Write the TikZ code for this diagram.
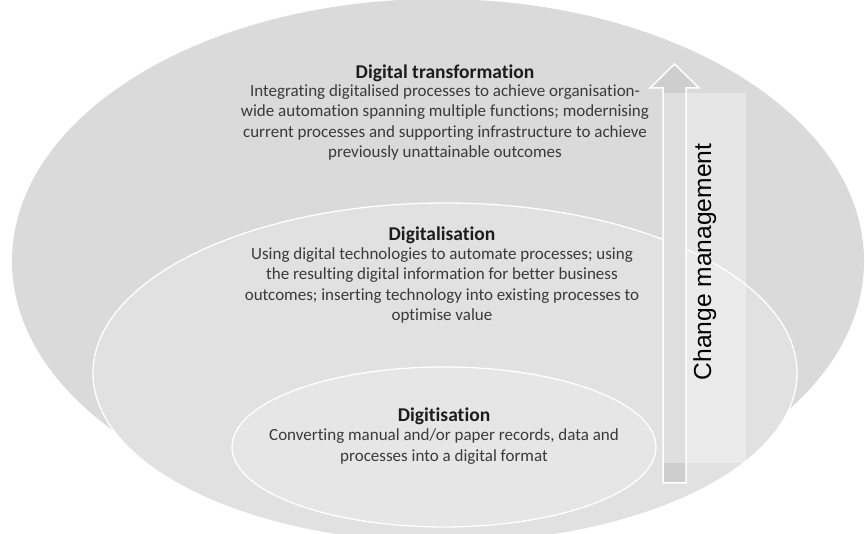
\documentclass[tikz,border=0pt]{standalone}
\usepackage{fontspec}
\setmainfont{Carlito}[Ligatures=NoCommon]
\newfontfamily\arialfont{Liberation Sans}
\usetikzlibrary{positioning}

\definecolor{outerfill}{RGB}{218,218,218}
\definecolor{midfill}{RGB}{225,225,225}
\definecolor{innerfill}{RGB}{230,230,230}
\definecolor{arrowfill}{RGB}{206,206,206}
\definecolor{titlegray}{RGB}{28,28,28}
\definecolor{bodygray}{RGB}{58,58,58}

\begin{document}
\begin{tikzpicture}[x=1pt,y=1pt,
    level/.style={draw=white,line width=1.3pt},
    heading/.style={font=\bfseries\fontsize{19.5}{22}\selectfont,text=titlegray,inner sep=0pt,anchor=base},
    blurb/.style={font=\fontsize{17}{20.5}\selectfont,text=bodygray,align=center,inner sep=0pt},
    arrowbox/.style={fill=arrowfill,draw=white,line width=1.5pt,line join=miter}]

    \useasboundingbox (0,0) rectangle (865,534);
    \clip (0,0) rectangle (865,534);

    % nested stages
    \fill[outerfill] (438,273) ellipse [x radius=426, y radius=262];
    \filldraw[midfill,level] (445,161) ellipse [x radius=352, y radius=170];
    \filldraw[innerfill,level] (444,87) ellipse [x radius=212, y radius=80];

    % change management arrow
    \coordinate (tip) at (674.5,470);
    \draw[arrowbox] (663,51) -- (663,446) -- (650,446) -- (tip)
        -- (699,446) -- (686,446) -- (686,51) -- cycle;
    \fill[white,opacity=0.35] (663,71) rectangle (746,441);
    \node[font=\arialfont\fontsize{24.6}{28}\selectfont,rotate=90,anchor=base,inner sep=0pt]
        (cm) at (711,272) {Change management};

    % labels
    \node[heading] (dt) at (445,455) {Digital transformation};
    \node[blurb,below=2pt of dt] (dtText) {Integrating digitalised processes to achieve organisation-\\
        wide automation spanning multiple functions; modernising\\
        current processes and supporting infrastructure to achieve\\
        previously unattainable outcomes};

    \node[heading] (dl) at (442,293) {Digitalisation};
    \node[blurb,below=3pt of dl] (dlText) {Using digital technologies to automate processes; using\\
        the resulting digital information for better business\\
        outcomes; inserting technology into existing processes to\\
        optimise value};

    \node[heading] (dg) at (444,112) {Digitisation};
    \node[blurb,below=3pt of dg] (dgText) {Converting manual and/or paper records, data and\\
        processes into a digital format};

\end{tikzpicture}
\end{document}
